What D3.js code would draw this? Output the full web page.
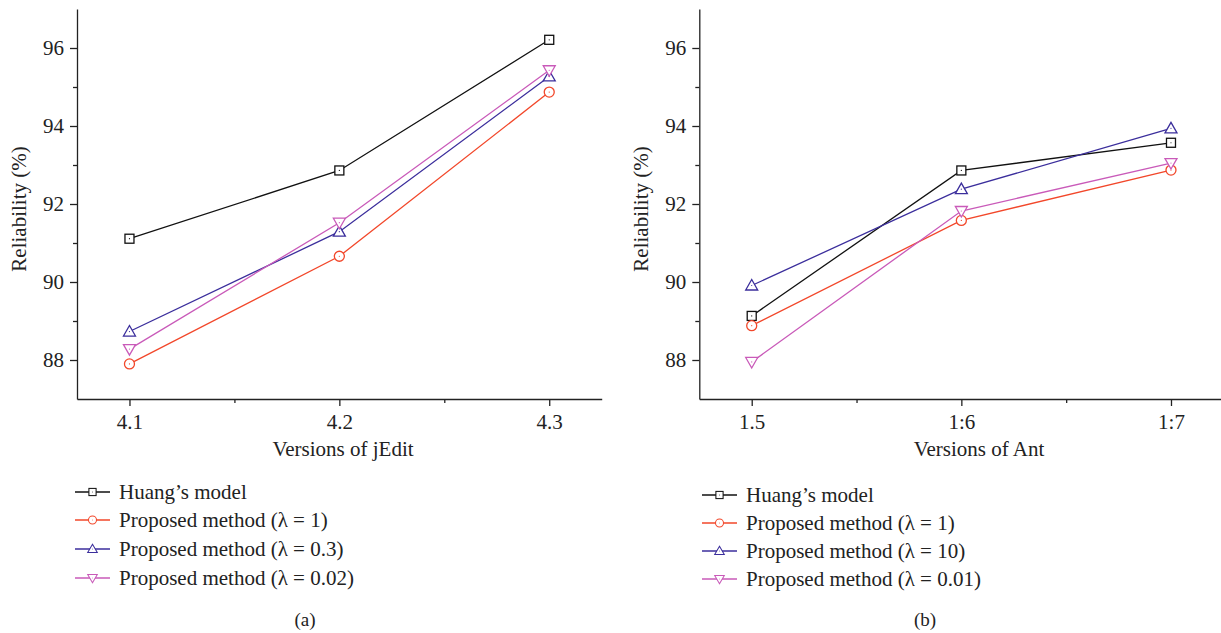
<!DOCTYPE html>
<html>
<head>
<meta charset="utf-8">
<script src="https://cdn.jsdelivr.net/npm/d3@7"></script>
<style>
  body { margin: 0; background: #fff; }
  svg { display: block; font-family: "Liberation Serif", "DejaVu Serif", serif; }
  .axis path, .axis line { stroke: #222; stroke-width: 1.3; }
  .axis text { font-size: 21px; fill: #222; font-family: "Liberation Serif", serif; }
</style>
</head>
<body>
<div id="chart"></div>
<script>
// panel (a): jEdit
const versionsA = [4.1, 4.2, 4.3];
const huangA = [91.11, 92.86, 96.21];
const lambda1A = [87.9, 90.66, 94.87];
const lambda03A = [88.73, 91.29, 95.27];
const lambda002A = [88.28, 91.52, 95.43];

// panel (b): Ant
const versionsB = [1.5, 1.6, 1.7];
const versionLabelsB = ["1.5", "1:6", "1:7"];
const huangB = [89.13, 92.86, 93.57];
const lambda1B = [88.88, 91.58, 92.87];
const lambda10B = [89.91, 92.38, 93.94];
const lambda001B = [87.95, 91.82, 93.05];

const yTicks = [88, 90, 92, 94, 96];
const yMinorTicks = [89, 91, 93, 95];

const colors = {
  huang: "#111",
  red: "#f2472a",
  blue: "#3b2e9c",
  pink: "#c95ab9",
};

const width = 1221;
const height = 633;

const svg = d3
  .select("#chart")
  .append("svg")
  .attr("width", width)
  .attr("height", height);

function marker(g, shape, color) {
  if (shape === "square") {
    g.append("rect")
      .attr("x", -4.5).attr("y", -4.5)
      .attr("width", 9).attr("height", 9)
      .attr("fill", "#fff").attr("stroke", color).attr("stroke-width", 1.3);
  } else if (shape === "circle") {
    g.append("circle")
      .attr("r", 5)
      .attr("fill", "#fff").attr("stroke", color).attr("stroke-width", 1.3);
  } else if (shape === "up") {
    g.append("path")
      .attr("d", "M0,-6L6,4.5L-6,4.5Z")
      .attr("fill", "#fff").attr("stroke", color).attr("stroke-width", 1.3);
  } else {
    g.append("path")
      .attr("d", "M0,6L6,-4.5L-6,-4.5Z")
      .attr("fill", "#fff").attr("stroke", color).attr("stroke-width", 1.3);
  }
  g.append("circle").attr("r", 0.6).attr("fill", color);
}

function drawPanel({ left, right, xDomain, versions, tickLabels, minor, series, xTitle, xTitleX, legendX, legendRows, tag, tagX }) {
  const top = 9;
  const bottom = 399;

  const x = d3.scaleLinear().domain(xDomain).range([left, right]);
  const y = d3.scaleLinear().domain([87, 97]).range([bottom, top]);

  const g = svg.append("g");

  // minor ticks
  g.append("g")
    .attr("class", "axis")
    .attr("transform", `translate(${left},0)`)
    .call(d3.axisLeft(y).tickValues(yMinorTicks).tickSize(4).tickFormat(""))
    .call((a) => a.select(".domain").remove());
  g.append("g")
    .attr("class", "axis")
    .attr("transform", `translate(0,${bottom})`)
    .call(d3.axisBottom(x).tickValues(minor).tickSize(4).tickFormat(""))
    .call((a) => a.select(".domain").remove());

  g.append("g")
    .attr("class", "axis")
    .attr("transform", `translate(${left},0)`)
    .call(
      d3.axisLeft(y).tickValues(yTicks).tickSize(7).tickSizeOuter(0).tickPadding(6)
    );

  g.append("g")
    .attr("class", "axis")
    .attr("transform", `translate(0,${bottom})`)
    .call(
      d3
        .axisBottom(x)
        .tickValues(versions)
        .tickSize(7)
        .tickSizeOuter(0)
        .tickPadding(8)
        .tickFormat((d, i) => tickLabels[i])
    );

  g.append("text")
    .attr("x", xTitleX)
    .attr("y", 456)
    .attr("text-anchor", "middle")
    .attr("font-size", 21)
    .attr("fill", "#222")
    .text(xTitle);

  g.append("text")
    .attr("transform", `translate(${left - 51},${(top + bottom) / 2 + 5}) rotate(-90)`)
    .attr("text-anchor", "middle")
    .attr("font-size", 21)
    .attr("fill", "#222")
    .text("Reliability (%)");

  const line = d3
    .line()
    .x((d, i) => x(versions[i]))
    .y((d) => y(d));

  series.forEach((s) => {
    g.append("path")
      .attr("d", line(s.values))
      .attr("fill", "none")
      .attr("stroke", s.color)
      .attr("stroke-width", 1.3);
  });
  series.forEach((s) => {
    s.values.forEach((v, i) => {
      const m = g.append("g").attr("transform", `translate(${x(versions[i])},${y(v)})`);
      marker(m, s.shape, s.color);
    });
  });

  // legend
  const lg = g.append("g");
  series.forEach((s, i) => {
    const row = lg.append("g").attr("transform", `translate(${legendX},${legendRows[i]})`);
    row.append("line")
      .attr("x1", 0).attr("x2", 35)
      .attr("stroke", s.color).attr("stroke-width", 1.3);
    const m = row.append("g").attr("transform", "translate(17.5,0) scale(0.8)");
    marker(m, s.shape, s.color);
    row.append("text")
      .attr("x", 44)
      .attr("dy", "0.33em")
      .attr("font-size", 21)
      .attr("fill", "#222")
      .text(s.label);
  });

  g.append("text")
    .attr("x", tagX)
    .attr("y", 626)
    .attr("text-anchor", "middle")
    .attr("font-size", 19)
    .attr("fill", "#222")
    .text(tag);
}

drawPanel({
  left: 77,
  right: 601.7,
  xDomain: [4.075, 4.325],
  versions: versionsA,
  tickLabels: versionsA.map((d) => d3.format(".1f")(d)),
  minor: [4.15, 4.25],
  xTitle: "Versions of jEdit",
  xTitleX: 343,
  legendX: 75,
  legendRows: [492, 520, 549, 578],
  tag: "(a)",
  tagX: 305,
  series: [
    { label: "Huang’s model", values: huangA, color: colors.huang, shape: "square" },
    { label: "Proposed method (λ = 1)", values: lambda1A, color: colors.red, shape: "circle" },
    { label: "Proposed method (λ = 0.3)", values: lambda03A, color: colors.blue, shape: "up" },
    { label: "Proposed method (λ = 0.02)", values: lambda002A, color: colors.pink, shape: "down" },
  ],
});

drawPanel({
  left: 699.3,
  right: 1223.4,
  xDomain: [1.475, 1.725],
  versions: versionsB,
  tickLabels: versionLabelsB,
  minor: [1.55, 1.65],
  xTitle: "Versions of Ant",
  xTitleX: 979,
  legendX: 702,
  legendRows: [495, 523, 551, 579],
  tag: "(b)",
  tagX: 925,
  series: [
    { label: "Huang’s model", values: huangB, color: colors.huang, shape: "square" },
    { label: "Proposed method (λ = 1)", values: lambda1B, color: colors.red, shape: "circle" },
    { label: "Proposed method (λ = 10)", values: lambda10B, color: colors.blue, shape: "up" },
    { label: "Proposed method (λ = 0.01)", values: lambda001B, color: colors.pink, shape: "down" },
  ],
});
</script>
</body>
</html>
